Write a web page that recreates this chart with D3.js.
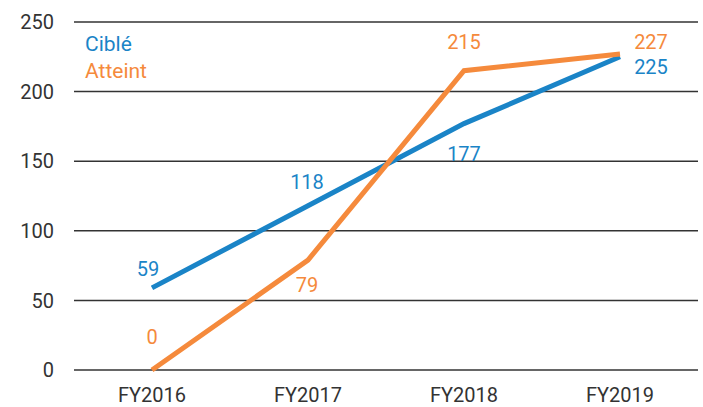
<!DOCTYPE html>
<html>
<head>
<meta charset="utf-8">
<script src="https://cdn.jsdelivr.net/npm/d3@7"></script>
<style>
  body { margin: 0; background: #fff; }
  svg { display: block; font-family: Roboto, "Noto Sans", sans-serif; }
</style>
</head>
<body>
<div id="chart"></div>
<script>
  const categories = ['FY2016', 'FY2017', 'FY2018', 'FY2019'];
  const cible = [59, 118, 177, 225];
  const atteint = [0, 79, 215, 227];
  const yTicks = [0, 50, 100, 150, 200, 250];

  const width = 703, height = 407;
  const margin = { top: 22, right: 5, bottom: 37, left: 74 };

  const blue = '#1a84c7';
  const orange = '#f58a3c';
  const grey = '#333333';

  const svg = d3.select('#chart')
    .append('svg')
    .attr('width', width)
    .attr('height', height);

  const x = d3.scalePoint()
    .domain(categories)
    .range([margin.left, width - margin.right])
    .padding(0.5);

  const y = d3.scaleLinear()
    .domain([0, 250])
    .range([height - margin.bottom, margin.top]);

  // gridlines
  svg.append('g')
    .selectAll('line')
    .data(yTicks)
    .join('line')
    .attr('x1', margin.left)
    .attr('x2', width - margin.right)
    .attr('y1', d => y(d))
    .attr('y2', d => y(d))
    .attr('stroke', grey)
    .attr('stroke-width', 1.5);

  // y tick labels
  svg.append('g')
    .selectAll('text')
    .data(yTicks)
    .join('text')
    .attr('x', 54)
    .attr('y', d => y(d))
    .attr('dy', '0.36em')
    .attr('text-anchor', 'end')
    .attr('font-size', 20)
    .attr('fill', grey)
    .text(d => d);

  // x labels
  svg.append('g')
    .selectAll('text')
    .data(categories)
    .join('text')
    .attr('x', d => x(d))
    .attr('y', 402)
    .attr('text-anchor', 'middle')
    .attr('font-size', 20)
    .attr('fill', grey)
    .text(d => d);

  const line = d3.line()
    .x((d, i) => x(categories[i]))
    .y(d => y(d));

  svg.append('path')
    .datum(cible)
    .attr('fill', 'none')
    .attr('stroke', blue)
    .attr('stroke-width', 5)
    .attr('d', line);

  svg.append('path')
    .datum(atteint)
    .attr('fill', 'none')
    .attr('stroke', orange)
    .attr('stroke-width', 5)
    .attr('d', line);

  // label placement offsets relative to each point
  const cibleOffsets = [[-4, -12], [-1, -17], [0, 37], [31, 17]];
  const atteintOffsets = [[0, -26], [-1, 32], [0, -22], [31, -5]];

  function labels(values, offsets, color) {
    svg.append('g')
      .selectAll('text')
      .data(values)
      .join('text')
      .attr('x', (d, i) => x(categories[i]) + offsets[i][0])
      .attr('y', (d, i) => y(d) + offsets[i][1])
      .attr('text-anchor', 'middle')
      .attr('font-size', 20)
      .attr('fill', color)
      .text(d => d);
  }
  labels(cible, cibleOffsets, blue);
  labels(atteint, atteintOffsets, orange);

  // legend
  svg.append('text')
    .attr('x', 85).attr('y', 51)
    .attr('font-size', 21).attr('fill', blue)
    .text('Ciblé');
  svg.append('text')
    .attr('x', 85).attr('y', 78)
    .attr('font-size', 21).attr('fill', orange)
    .text('Atteint');
</script>
</body>
</html>
